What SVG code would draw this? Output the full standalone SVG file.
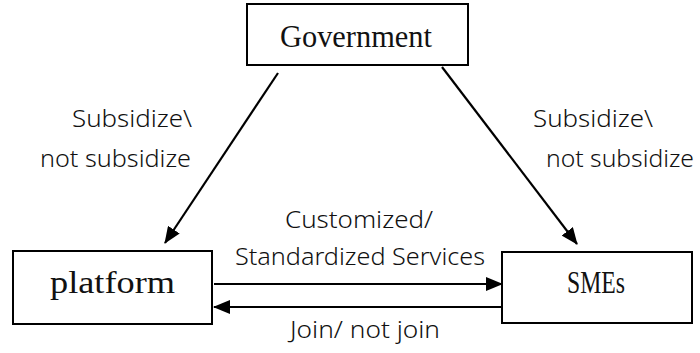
<svg xmlns="http://www.w3.org/2000/svg" width="700" height="353" viewBox="0 0 700 353">
<style>
.box{fill:#fff;stroke:#000;stroke-width:2}
.serif{font-family:"Liberation Serif","Times New Roman",serif;font-size:31px;fill:#111}
.sans{font-family:"Noto Sans","Open Sans",sans-serif;font-size:24.5px;font-weight:300;fill:#111}
.edge{stroke:#000;stroke-width:2.2;fill:none;marker-end:url(#ah)}
</style>
<defs>
<marker id="ah" markerUnits="userSpaceOnUse" markerWidth="18" markerHeight="14" refX="16" refY="7" orient="auto">
<path d="M0,0 L17,7 L0,14 z" fill="#000"/>
</marker>
</defs>
<rect width="700" height="353" fill="#fff"/>
<g id="edges">
<line class="edge" x1="278" y1="73" x2="165" y2="243"/>
<line class="edge" x1="442" y1="67" x2="577" y2="244"/>
<line class="edge" x1="214" y1="284" x2="502" y2="284"/>
<line class="edge" x1="502" y1="307" x2="214" y2="307"/>
</g>
<g id="government">
<rect class="box" x="247" y="4" width="221" height="61"/>
<text class="serif" x="280" y="47" textLength="152" lengthAdjust="spacingAndGlyphs">Government</text>
</g>
<g id="platform">
<rect class="box" x="13" y="251" width="199" height="73"/>
<text class="serif" x="50" y="293" textLength="125" lengthAdjust="spacingAndGlyphs">platform</text>
</g>
<g id="smes">
<rect class="box" x="502" y="252" width="190" height="71"/>
<text class="serif" x="567" y="293" textLength="58" lengthAdjust="spacingAndGlyphs">SMEs</text>
</g>
<g id="labels">
<text class="sans" x="72" y="127" textLength="120" lengthAdjust="spacingAndGlyphs">Subsidize\</text>
<text class="sans" x="40" y="167" textLength="151" lengthAdjust="spacingAndGlyphs">not subsidize</text>
<text class="sans" x="533" y="127" textLength="120" lengthAdjust="spacingAndGlyphs">Subsidize\</text>
<text class="sans" x="546" y="167" textLength="148" lengthAdjust="spacingAndGlyphs">not subsidize</text>
<text class="sans" x="285" y="228" textLength="148" lengthAdjust="spacingAndGlyphs">Customized/</text>
<text class="sans" x="235" y="265" textLength="250" lengthAdjust="spacingAndGlyphs">Standardized Services</text>
<text class="sans" x="290" y="338" textLength="150" lengthAdjust="spacingAndGlyphs">Join/ not join</text>
</g>
</svg>
